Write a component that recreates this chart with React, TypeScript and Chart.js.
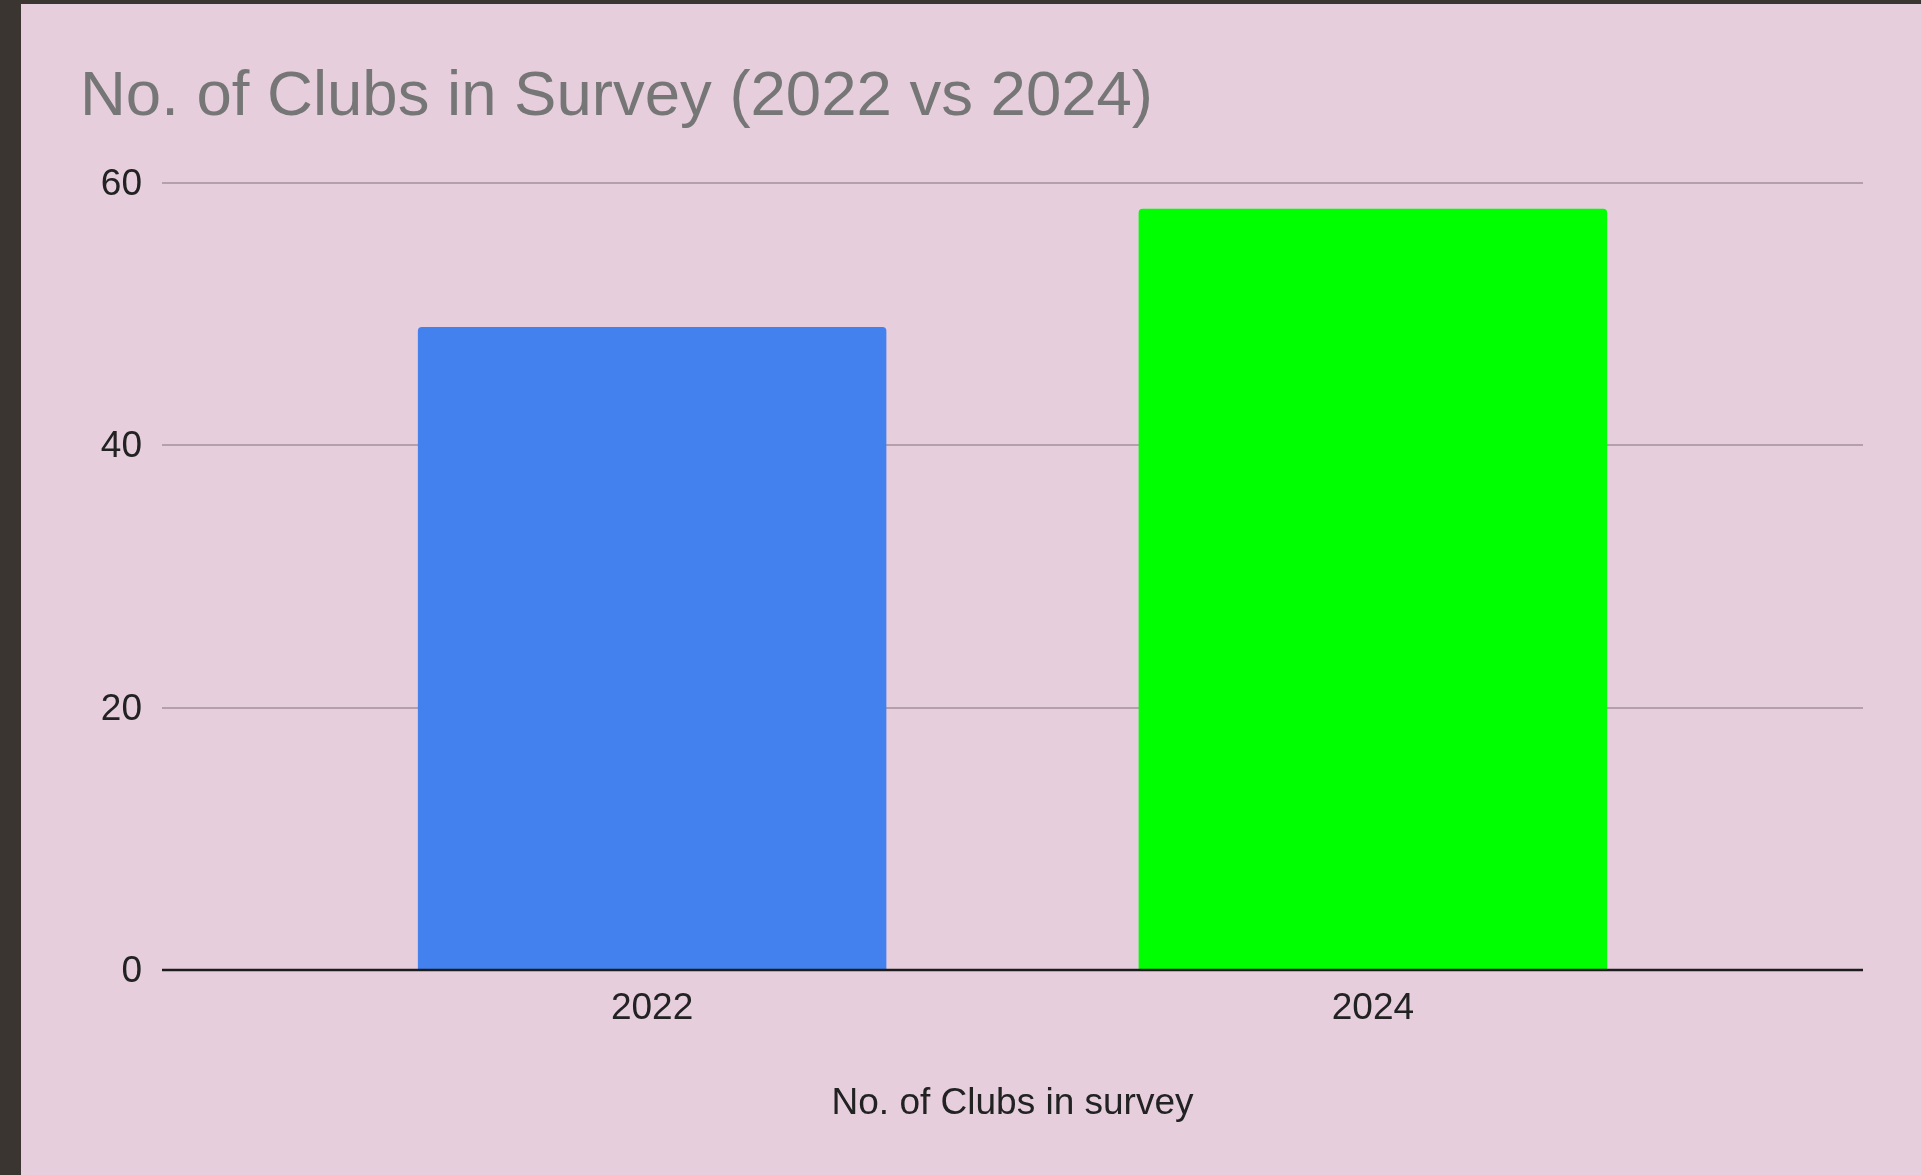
import React, { useEffect, useRef } from "react";
import { Chart, registerables } from "chart.js";

Chart.register(...registerables);

const categories: string[] = ["2022", "2024"];
const clubCounts: number[] = [49, 58];
const barColors: string[] = ["#4382ee", "#00ff00"];
const yTicks: number[] = [0, 20, 40, 60];
const chartTitle = "No. of Clubs in Survey (2022 vs 2024)";
const xAxisTitle = "No. of Clubs in survey";

const FONT = "'Liberation Sans', Arial, sans-serif";

const zeroLinePlugin = {
  id: "zeroLine",
  afterDatasetsDraw(chart: any) {
    const y = chart.scales.y;
    const area = chart.chartArea;
    const py = Math.round(y.getPixelForValue(0));
    const ctx = chart.ctx;
    ctx.save();
    ctx.strokeStyle = "#1c1c1c";
    ctx.lineWidth = 2.5;
    ctx.beginPath();
    ctx.moveTo(area.left, py);
    ctx.lineTo(area.right, py);
    ctx.stroke();
    ctx.restore();
  },
};

export default function App() {
  const ref = useRef<HTMLCanvasElement | null>(null);

  useEffect(() => {
    document.body.style.margin = "0";
    const canvas = ref.current;
    if (!canvas) return;
    const chart = new Chart(canvas, {
      type: "bar",
      data: {
        datasets: [
          {
            data: categories.map((_, i) => ({ x: i, y: clubCounts[i] })),
            backgroundColor: barColors,
            borderWidth: 0,
            borderRadius: { topLeft: 4, topRight: 4, bottomLeft: 0, bottomRight: 0 },
            borderSkipped: "start",
            barPercentage: 0.65,
            categoryPercentage: 1.0,
          },
        ],
      },
      options: {
        animation: false,
        responsive: false,
        devicePixelRatio: 1,
        layout: { padding: { left: 59, right: 58, top: 0, bottom: 0 } },
        plugins: {
          legend: { display: false },
          tooltip: { enabled: false },
          title: {
            display: true,
            text: chartTitle,
            align: "start",
            color: "#767676",
            font: { family: FONT, size: 63.5, weight: "normal" },
            padding: { top: 55, bottom: 47.4 },
          },
        },
        scales: {
          x: {
            type: "linear",
            min: -0.68,
            max: 1.68,
            offset: false,
            grid: { display: false, drawTicks: false, offset: false },
            border: { display: false },
            afterBuildTicks: (scale: any) => {
              scale.ticks = categories.map((_, i) => ({ value: i }));
            },
            afterFit: (scale: any) => {
              scale.height = 205;
            },
            ticks: {
              color: "#222222",
              font: { family: FONT, size: 37 },
              padding: 17,
              maxRotation: 0,
              autoSkip: false,
              callback: (v: any) => categories[Math.round(Number(v))] ?? "",
            },
            title: {
              display: true,
              text: xAxisTitle,
              color: "#222222",
              font: { family: FONT, size: 37 },
              padding: { top: 0, bottom: 49 },
            },
          },
          y: {
            min: 0,
            max: 60,
            afterBuildTicks: (scale: any) => {
              scale.ticks = yTicks.map((v) => ({ value: v }));
            },
            afterFit: (scale: any) => {
              scale.width = 82;
            },
            grid: {
              drawTicks: false,
              lineWidth: 2,
              color: (c: any) => (c.tick && c.tick.value === 0 ? "#1c1c1c" : "#b3a0aa"),
            },
            border: { display: false },
            ticks: {
              color: "#222222",
              font: { family: FONT, size: 37 },
              padding: 20,
              labelOffset: 2,
            },
          },
        },
      },
      plugins: [zeroLinePlugin],
    } as any);
    return () => chart.destroy();
  }, []);

  return (
    <div
      style={{
        position: "absolute",
        left: 0,
        top: 0,
        width: 1921,
        height: 1175,
        background: "#3a3531",
        overflow: "hidden",
      }}
    >
      <div
        style={{
          position: "absolute",
          left: 21,
          top: 4,
          width: 1900,
          height: 1171,
          background: "#e6cedc",
        }}
      >
        <canvas ref={ref} width={1900} height={1171} style={{ display: "block" }} />
      </div>
    </div>
  );
}
